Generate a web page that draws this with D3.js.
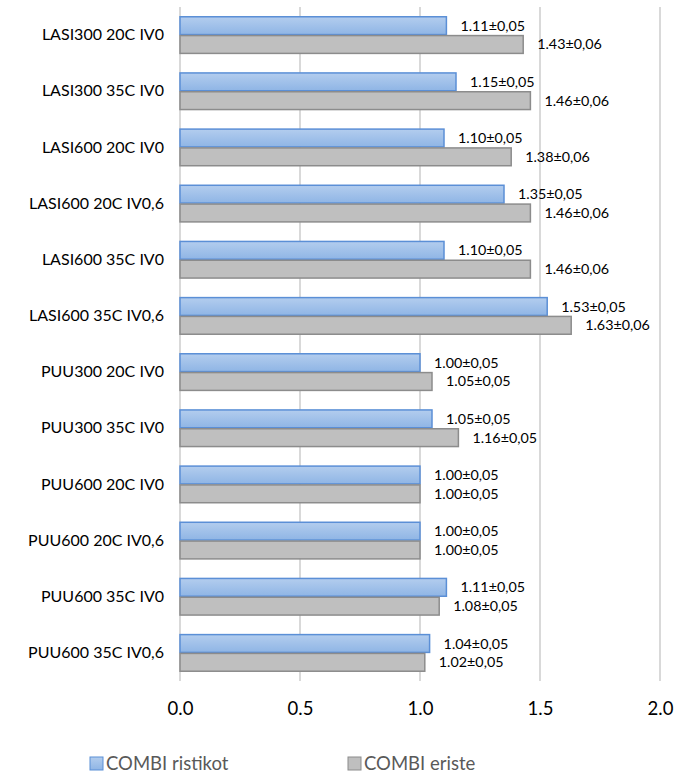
<!DOCTYPE html>
<html>
<head>
<meta charset="utf-8">
<script src="https://cdn.jsdelivr.net/npm/d3@7"></script>
<style>
  html, body { margin: 0; padding: 0; background: #ffffff; }
  svg { display: block; font-family: Lato, "Open Sans", sans-serif; }
</style>
</head>
<body>
<svg id="chart" width="688" height="774"></svg>
<script>
// Categories (top to bottom)
const categories = [
  "LASI300 20C IV0", "LASI300 35C IV0", "LASI600 20C IV0", "LASI600 20C IV0,6",
  "LASI600 35C IV0", "LASI600 35C IV0,6", "PUU300 20C IV0", "PUU300 35C IV0",
  "PUU600 20C IV0", "PUU600 20C IV0,6", "PUU600 35C IV0", "PUU600 35C IV0,6"
];
// Series values and their uncertainties
const ristikot    = [1.11, 1.15, 1.10, 1.35, 1.10, 1.53, 1.00, 1.05, 1.00, 1.00, 1.11, 1.04];
const ristikotErr = [0.05, 0.05, 0.05, 0.05, 0.05, 0.05, 0.05, 0.05, 0.05, 0.05, 0.05, 0.05];
const eriste      = [1.43, 1.46, 1.38, 1.46, 1.46, 1.63, 1.05, 1.16, 1.00, 1.00, 1.08, 1.02];
const eristeErr   = [0.06, 0.06, 0.06, 0.06, 0.06, 0.06, 0.05, 0.05, 0.05, 0.05, 0.05, 0.05];
const seriesNames = ["COMBI ristikot", "COMBI eriste"];
const tickValues  = [0.0, 0.5, 1.0, 1.5, 2.0];

const series = [
  { name: seriesNames[0], values: ristikot, errs: ristikotErr, fill: "url(#gradBlue)", stroke: "#5b8fd6" },
  { name: seriesNames[1], values: eriste,   errs: eristeErr,   fill: "#bfbfbf",        stroke: "#8c8c8c" }
];

const svg = d3.select("#chart");
const plot = { left: 180, right: 660, top: 7, bottom: 681 };

const x = d3.scaleLinear().domain([0, 2]).range([plot.left, plot.right]);
const y = d3.scaleBand().domain(categories).range([plot.top, plot.bottom]).paddingInner(0.33).paddingOuter(0.165);
const ySub = d3.scaleBand().domain(seriesNames).range([0, y.bandwidth()]);

// Gradient for the blue bars
const defs = svg.append("defs");
const g1 = defs.append("linearGradient").attr("id", "gradBlue").attr("x1", 0).attr("y1", 0).attr("x2", 0).attr("y2", 1);
g1.append("stop").attr("offset", "0%").attr("stop-color", "#b3cdee");
g1.append("stop").attr("offset", "100%").attr("stop-color", "#8fb5e5");

// Vertical gridlines
svg.append("g")
  .selectAll("line")
  .data(tickValues)
  .join("line")
  .attr("x1", d => x(d)).attr("x2", d => x(d))
  .attr("y1", plot.top).attr("y2", plot.bottom)
  .attr("stroke", "#d9d9d9").attr("stroke-width", 2);

// Bottom tick labels
const xAxis = d3.axisBottom(x).tickValues(tickValues).tickFormat(d3.format(".1f")).tickSize(0).tickPadding(0);
const ax = svg.append("g").attr("transform", `translate(0, ${plot.bottom + 28})`).call(xAxis);
ax.select(".domain").remove();
ax.selectAll("text").attr("font-size", 18.5).attr("fill", "#000").attr("font-family", "Lato, sans-serif").attr("dy", "0.35em");

// Category labels
const yAxis = d3.axisLeft(y).tickSize(0).tickPadding(0);
const ay = svg.append("g").attr("transform", `translate(${plot.left - 16}, 0)`).call(yAxis);
ay.select(".domain").remove();
ay.selectAll("text").attr("font-size", 16).attr("fill", "#000").attr("font-family", "Lato, sans-serif");

const fmtV = d3.format(".2f");
const fmtE = v => d3.format(".2f")(v).replace(".", ",");

// Bars
series.forEach(s => {
  const gS = svg.append("g");
  gS.selectAll("rect")
    .data(categories)
    .join("rect")
    .attr("x", x(0))
    .attr("y", (c) => y(c) + ySub(s.name) + 0.5)
    .attr("width", (c, i) => x(s.values[i]) - x(0))
    .attr("height", ySub.bandwidth() - 1)
    .attr("fill", s.fill)
    .attr("stroke", s.stroke)
    .attr("stroke-width", 1.5);
  gS.selectAll("text")
    .data(categories)
    .join("text")
    .attr("x", (c, i) => x(s.values[i]) + 14)
    .attr("y", (c) => y(c) + ySub(s.name) + ySub.bandwidth() / 2)
    .attr("dy", "0.35em")
    .attr("font-size", 14.3)
    .attr("fill", "#000")
    .text((c, i) => fmtV(s.values[i]) + "±" + fmtE(s.errs[i]));
});

// Legend
const legendItems = [
  { name: seriesNames[0], x: 90, fill: "url(#gradBlue)", stroke: "#5b8fd6" },
  { name: seriesNames[1], x: 348, fill: "#bfbfbf", stroke: "#8c8c8c" }
];
const lg = svg.append("g").attr("transform", "translate(0, 764)");
legendItems.forEach(it => {
  lg.append("rect").attr("x", it.x).attr("y", -7).attr("width", 13).attr("height", 13)
    .attr("fill", it.fill).attr("stroke", it.stroke).attr("stroke-width", 1);
  lg.append("text").attr("x", it.x + 16).attr("y", 0).attr("dy", "0.35em")
    .attr("font-size", 18.5).attr("fill", "#595959").text(it.name);
});
</script>
</body>
</html>
